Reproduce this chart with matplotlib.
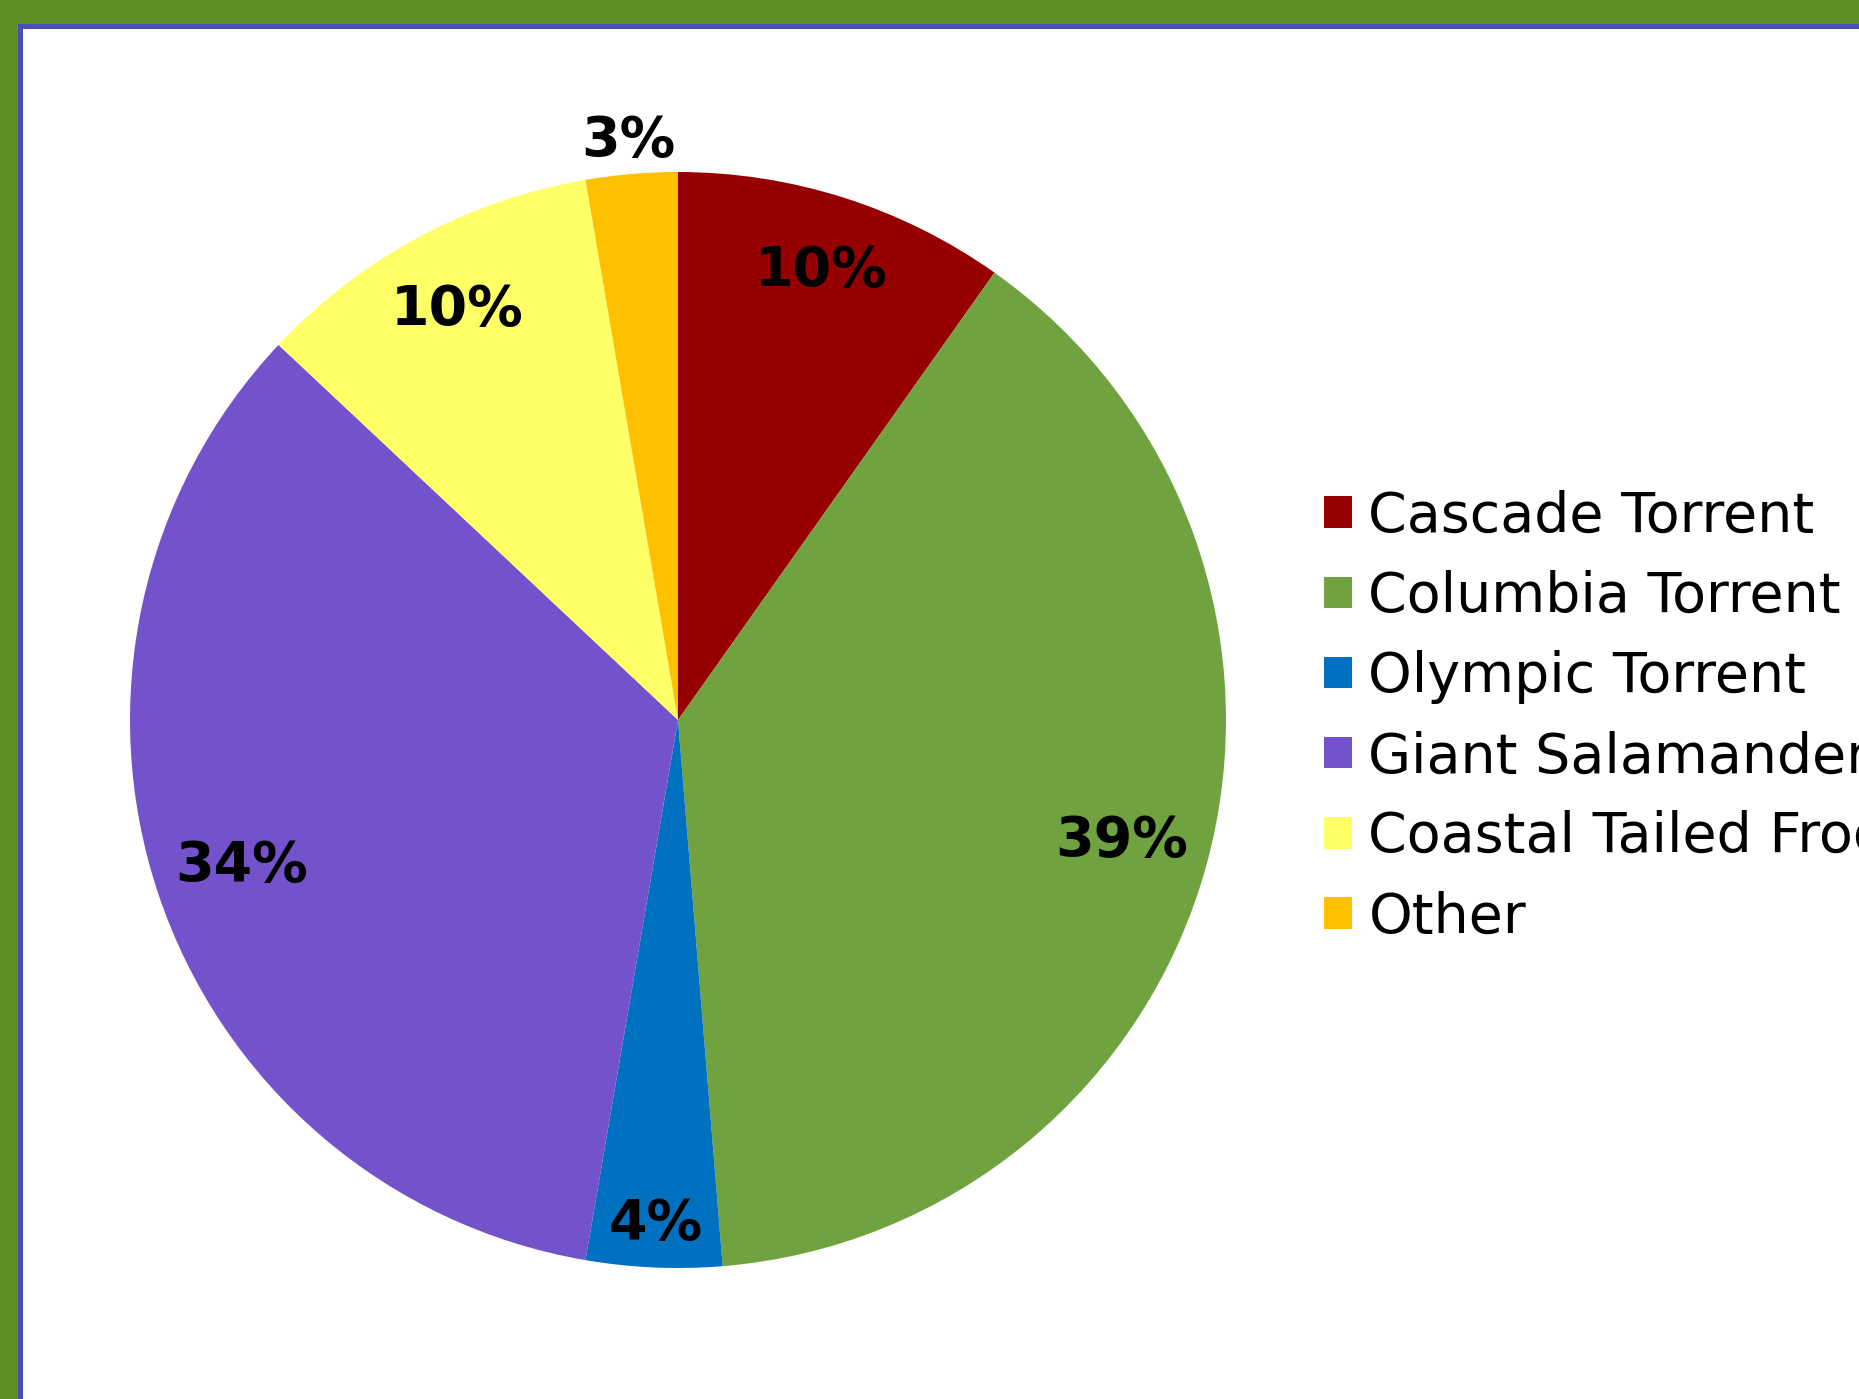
import numpy as np
import matplotlib.pyplot as plt
from matplotlib.patches import Rectangle

categories = ["Cascade Torrent", "Columbia Torrent", "Olympic Torrent",
              "Giant Salamanders", "Coastal Tailed Frog", "Other"]
shares = [9.8, 38.9, 4.0, 34.3, 10.3, 2.7]
pct_labels = ["10%", "39%", "4%", "34%", "10%", "3%"]
colors = ["#960000", "#70a33f", "#0070c0", "#7352cb", "#ffff66", "#ffc000"]
label_radius = [0.86, 0.84, 0.92, 0.84, 0.85, 1.06]

W, H = 1859, 1399
fig = plt.figure(figsize=(W / 100, H / 100), dpi=100)
fig.patch.set_facecolor("#5f8f27")

# white panel with blue border, running off the right and bottom edges
fig.patches.append(Rectangle((19.5 / W, -0.1), 1.2, 1 - 25.5 / H + 0.1,
                             transform=fig.transFigure, facecolor="white",
                             edgecolor="#4b4fb5", linewidth=3.6, zorder=-1))

cx, cy, r = 678, 720, 548
ax = fig.add_axes([(cx - r) / W, (H - cy - r) / H, 2 * r / W, 2 * r / H])
wedges, _ = ax.pie(shares, colors=colors, startangle=90, counterclock=False,
                   radius=1, wedgeprops=dict(linewidth=0))
ax.set_xlim(-1, 1)
ax.set_ylim(-1, 1)
ax.set_aspect("equal")
ax.axis("off")

for w, lab, rr in zip(wedges, pct_labels, label_radius):
    mid = np.deg2rad((w.theta1 + w.theta2) / 2)
    ax.text(rr * np.cos(mid), rr * np.sin(mid), lab, ha="center", va="center",
            fontsize=40, fontweight="bold", color="black", clip_on=False)

leg = fig.legend(wedges, categories, loc="upper left",
                 bbox_to_anchor=(1324 / W, 1 - 490 / H), frameon=False,
                 fontsize=40, handlelength=0.5, handleheight=0.5,
                 handletextpad=0.3, labelspacing=0.47, borderaxespad=0,
                 borderpad=0)

fig.savefig("out.png", dpi=100, facecolor=fig.get_facecolor())
